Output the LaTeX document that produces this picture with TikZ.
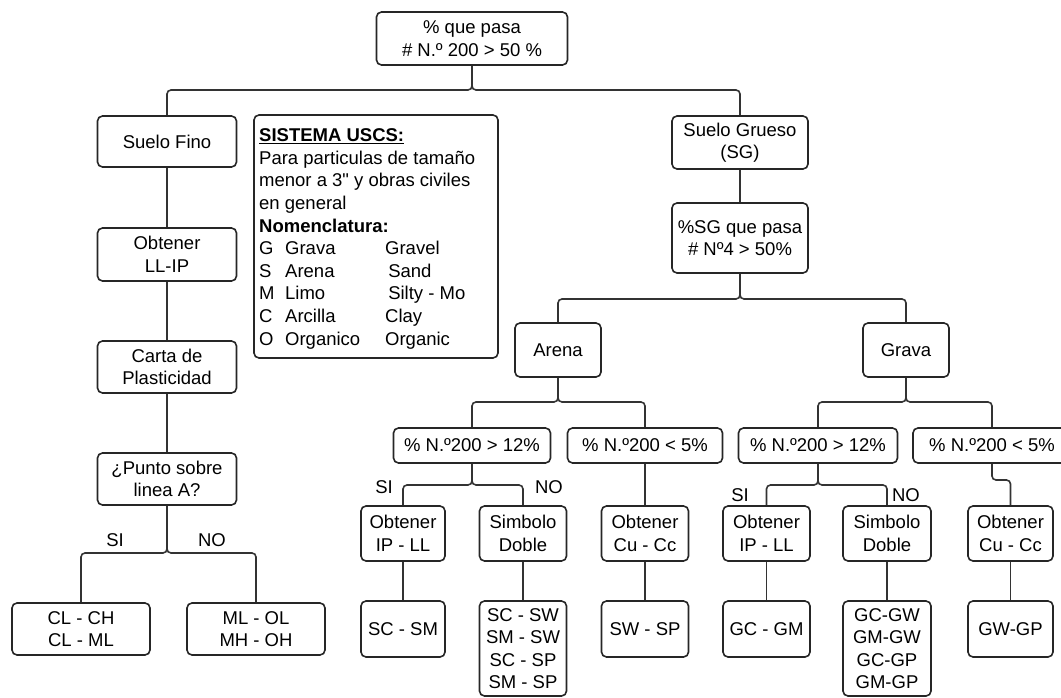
\documentclass[tikz,border=0pt]{standalone}
\usepackage{fontspec}
\setmainfont{Liberation Sans}
\newfontfamily\plainquote{Liberation Sans}[Ligatures=TeXOff]
\begin{document}
\begin{tikzpicture}[x=1pt,y=-1pt,
  box/.style={draw=black!85, line width=1.6pt, rounded corners=5pt, align=center,
    inner sep=0pt, fill=white, font=\fontsize{18.5}{22.5}\selectfont},
  conn/.style={draw=black!80, line width=1.6pt, rounded corners=4pt},
  lbl/.style={inner sep=0pt, font=\fontsize{18.5}{22.5}\selectfont}]
\fill[white] (0,0) rectangle (1061,698);
\useasboundingbox (0,0) rectangle (1061,698);

% top
\node[box, minimum width=191pt, minimum height=53pt] (top) at (472,38.5) {\% que pasa\\\# N.º 200 > 50 \%};

% left column
\node[box, minimum width=139pt, minimum height=51pt] (SF) at (167,141.5) {Suelo Fino};
\node[box, minimum width=139pt, minimum height=53pt] (LLIP) at (167,254.5) {Obtener\\LL-IP};
\node[box, minimum width=139pt, minimum height=52pt] (CP) at (167,367) {Carta de\\Plasticidad};
\node[box, minimum width=139pt, minimum height=52pt] (PA) at (167,479) {¿Punto sobre\\linea A?};
\node[box, minimum width=138pt, minimum height=52pt] (CLCH) at (81,629) {CL - CH\\CL - ML};
\node[box, minimum width=138pt, minimum height=52pt] (MLOL) at (256,629) {ML - OL\\MH - OH};

% legend
\node[box, minimum width=244pt, minimum height=243pt] (leg) at (376,236.5) {};
\node[lbl, anchor=north west, align=left, font=\fontsize{18.5}{22.6}\selectfont] (legt) at (259,128.5)
 {\underline{\textbf{SISTEMA USCS:}}\\
  Para particulas de tamaño\\
  menor a 3{\plainquote "} y obras civiles\\
  en general\\
  \textbf{Nomenclatura:}\\
  \makebox[126pt][l]{\makebox[26pt][l]{G}Grava}Gravel\\
  \makebox[126pt][l]{\makebox[26pt][l]{S}Arena}\,Sand\\
  \makebox[126pt][l]{\makebox[26pt][l]{M}Limo}\,Silty - Mo\\
  \makebox[126pt][l]{\makebox[26pt][l]{C}Arcilla}Clay\\
  \makebox[126pt][l]{\makebox[26pt][l]{O}Organico}Organic};

% right part
\node[box, minimum width=136pt, minimum height=53pt] (SG) at (740,142.5) {Suelo Grueso\\(SG)};
\node[box, minimum width=136pt, minimum height=70pt] (SGP) at (740,238) {\%SG que pasa\\\# Nº4 > 50\%};
\node[box, minimum width=86pt, minimum height=54pt] (AR) at (558,350) {Arena};
\node[box, minimum width=86pt, minimum height=54pt] (GR) at (906,350) {Grava};

\node[box, minimum width=157pt, minimum height=35pt] (A12) at (472,445.5) {\% N.º200 > 12\%};
\node[box, minimum width=155pt, minimum height=35pt] (A5) at (645,445.5) {\% N.º200 < 5\%};
\node[box, minimum width=159pt, minimum height=35pt] (G12) at (818,445.5) {\% N.º200 > 12\%};
\node[box, minimum width=158pt, minimum height=35pt] (G5) at (992,445.5) {\% N.º200 < 5\%};

\node[box, minimum width=84pt, minimum height=55pt] (AIP) at (403,533.5) {Obtener\\IP - LL};
\node[box, minimum width=87pt, minimum height=55pt] (ASD) at (523,533.5) {Simbolo\\Doble};
\node[box, minimum width=87pt, minimum height=55pt] (ACU) at (645,533.5) {Obtener\\Cu - Cc};
\node[box, minimum width=87pt, minimum height=55pt] (GIP) at (766.5,533.5) {Obtener\\IP - LL};
\node[box, minimum width=88pt, minimum height=55pt] (GSD) at (887,533.5) {Simbolo\\Doble};
\node[box, minimum width=85pt, minimum height=55pt] (GCU) at (1010.5,533.5) {Obtener\\Cu - Cc};

\node[box, minimum width=84pt, minimum height=56pt] (SCSM) at (403,629) {SC - SM};
\node[box, minimum width=87pt, minimum height=95pt] (SCSW) at (523,648.5) {SC - SW\\SM - SW\\SC - SP\\SM - SP};
\node[box, minimum width=87pt, minimum height=56pt] (SWSP) at (645,629) {SW - SP};
\node[box, minimum width=87pt, minimum height=56pt] (GCGM) at (766.5,629) {GC - GM};
\node[box, minimum width=88pt, minimum height=95pt] (GCGW) at (887,648.5) {GC-GW\\GM-GW\\GC-GP\\GM-GP};
\node[box, minimum width=85pt, minimum height=56pt] (GWGP) at (1010.5,629) {GW-GP};

% labels
\node[lbl] (siL) at (115,540) {SI};
\node[lbl] (noL) at (212,540) {NO};
\node[lbl] (siA) at (384,487) {SI};
\node[lbl] (noA) at (549,487) {NO};
\node[lbl] (siG) at (740,495) {SI};
\node[lbl] (noG) at (906,495) {NO};

% bus coordinates
\coordinate (b0) at (472,90);
\coordinate (b1) at (167,553);
\coordinate (b2) at (740,299);
\coordinate (b3) at (558,402);
\coordinate (b4) at (906,402);
\coordinate (b5) at (472,485);
\coordinate (b6) at (818,485);
\coordinate (b7) at (992,480);

% connectors
\draw[conn] (top.south) -- (b0) -| (SF.north);
\draw[conn] (top.south) -- (b0) -| (SG.north);
\draw[conn] (SF.south) -- (LLIP.north);
\draw[conn] (LLIP.south) -- (CP.north);
\draw[conn] (CP.south) -- (PA.north);
\draw[conn] (PA.south) -- (b1) -| (CLCH.north);
\draw[conn] (PA.south) -- (b1) -| (MLOL.north);
\draw[conn] (SG.south) -- (SGP.north);
\draw[conn] (SGP.south) -- (b2) -| (AR.north);
\draw[conn] (SGP.south) -- (b2) -| (GR.north);
\draw[conn] (AR.south) -- (b3) -| (A12.north);
\draw[conn] (AR.south) -- (b3) -| (A5.north);
\draw[conn] (GR.south) -- (b4) -| (G12.north);
\draw[conn] (GR.south) -- (b4) -| (G5.north);
\draw[conn] (A12.south) -- (b5) -| (AIP.north);
\draw[conn] (A12.south) -- (b5) -| (ASD.north);
\draw[conn] (A5.south) -- (ACU.north);
\draw[conn] (G12.south) -- (b6) -| (GIP.north);
\draw[conn] (G12.south) -- (b6) -| (GSD.north);
\draw[conn] (G5.south) -- (b7) -| (GCU.north);
\draw[conn] (AIP.south) -- (SCSM.north);
\draw[conn] (ASD.south) -- (SCSW.north);
\draw[conn] (ACU.south) -- (SWSP.north);
\draw[conn] (GIP.south) -- (GCGM.north);
\draw[conn] (GSD.south) -- (GCGW.north);
\draw[conn] (GCU.south) -- (GWGP.north);
\end{tikzpicture}
\end{document}
